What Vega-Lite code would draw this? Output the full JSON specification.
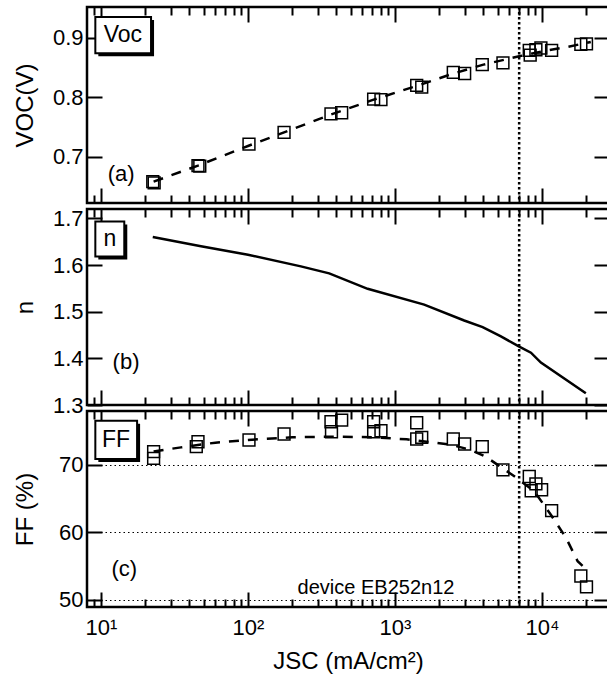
{
  "$schema": "https://vega.github.io/schema/vega-lite/v6.json",
  "padding": {"left": 12, "top": 4, "right": 0, "bottom": 0},
  "background": "white",
  "config": {
    "font": "Liberation Sans",
    "view": {"stroke": "black", "strokeWidth": 2.5},
    "axis": {"labelFont": "Liberation Sans", "labelFontSize": 22, "labelColor": "black", "titleFont": "Liberation Sans", "titleFontSize": 24, "titleFontWeight": "normal", "titleColor": "black", "tickColor": "black", "tickWidth": 2, "domain": false, "grid": false, "labelFlush": false, "labelOverlap": false}
  },
  "spacing": 6,
  "bounds": "flush",
  "datasets": {
    "voc": [
      {"J": 22.5, "V": 0.658}, {"J": 23, "V": 0.656},
      {"J": 45.7, "V": 0.685}, {"J": 47, "V": 0.684},
      {"J": 101.6, "V": 0.721},
      {"J": 176, "V": 0.741},
      {"J": 367, "V": 0.772}, {"J": 434, "V": 0.774},
      {"J": 716, "V": 0.797}, {"J": 803, "V": 0.796},
      {"J": 1406, "V": 0.820}, {"J": 1521, "V": 0.817},
      {"J": 2494, "V": 0.842}, {"J": 2980, "V": 0.840},
      {"J": 3927, "V": 0.855}, {"J": 5430, "V": 0.858},
      {"J": 8200, "V": 0.879}, {"J": 8320, "V": 0.871}, {"J": 9100, "V": 0.880}, {"J": 9840, "V": 0.883}, {"J": 11640, "V": 0.879},
      {"J": 18400, "V": 0.889}, {"J": 20100, "V": 0.890}
    ],
    "vocfit": [
      {"J": 22.8, "V": 0.658}, {"J": 45.7, "V": 0.685}, {"J": 100, "V": 0.718}, {"J": 176, "V": 0.741},
      {"J": 367, "V": 0.771}, {"J": 716, "V": 0.796}, {"J": 1400, "V": 0.819}, {"J": 2500, "V": 0.840},
      {"J": 4000, "V": 0.855}, {"J": 7000, "V": 0.869}, {"J": 10000, "V": 0.877}, {"J": 15000, "V": 0.885}, {"J": 21500, "V": 0.893}
    ],
    "nfit": [
      {"J": 22.5, "n": 1.660}, {"J": 47.9, "n": 1.640}, {"J": 100, "n": 1.622}, {"J": 229, "n": 1.597},
      {"J": 357, "n": 1.582}, {"J": 652, "n": 1.549}, {"J": 1581, "n": 1.515}, {"J": 2958, "n": 1.481},
      {"J": 3950, "n": 1.467}, {"J": 5260, "n": 1.447}, {"J": 7010, "n": 1.425}, {"J": 8420, "n": 1.412},
      {"J": 9840, "n": 1.391}, {"J": 19900, "n": 1.325}
    ],
    "ff": [
      {"J": 22.8, "FF": 71.96}, {"J": 22.8, "FF": 70.97},
      {"J": 45.7, "FF": 73.44}, {"J": 44.5, "FF": 72.70},
      {"J": 101.6, "FF": 73.69},
      {"J": 176, "FF": 74.58},
      {"J": 367, "FF": 76.40}, {"J": 434, "FF": 76.65}, {"J": 370, "FF": 74.92},
      {"J": 716, "FF": 76.40}, {"J": 716, "FF": 74.92}, {"J": 803, "FF": 75.07},
      {"J": 1406, "FF": 76.25}, {"J": 1406, "FF": 73.84}, {"J": 1521, "FF": 74.08},
      {"J": 2494, "FF": 73.84}, {"J": 2980, "FF": 73.10}, {"J": 3927, "FF": 72.70},
      {"J": 5430, "FF": 69.26},
      {"J": 8200, "FF": 68.27}, {"J": 9100, "FF": 67.19}, {"J": 8450, "FF": 66.16}, {"J": 9950, "FF": 66.31},
      {"J": 11640, "FF": 63.21},
      {"J": 18400, "FF": 53.50}, {"J": 20100, "FF": 51.88}
    ],
    "fffit": [
      {"J": 22.8, "FF": 72.0}, {"J": 35, "FF": 72.6}, {"J": 60, "FF": 73.3}, {"J": 100, "FF": 73.7},
      {"J": 200, "FF": 74.1}, {"J": 400, "FF": 74.2}, {"J": 700, "FF": 74.1}, {"J": 1200, "FF": 73.8},
      {"J": 2400, "FF": 73.0}, {"J": 3300, "FF": 72.2}, {"J": 4160, "FF": 71.2}, {"J": 5000, "FF": 70.0},
      {"J": 6490, "FF": 68.3}, {"J": 8870, "FF": 66.1}, {"J": 11500, "FF": 62.6}, {"J": 14560, "FF": 59.2},
      {"J": 17500, "FF": 55.7}, {"J": 18900, "FF": 55.0}
    ]
  },
  "vconcat": [
    {
      "width": 522, "height": 196,
      "resolve": {"axis": {"x": "independent", "y": "independent"}},
      "layer": [
        {"data": {"values": [{}]}, "mark": {"type": "rule", "strokeDash": [2.5, 2.5], "strokeWidth": 2.5, "color": "black"},
         "encoding": {"x": {"datum": 7000, "type": "quantitative", "scale": {"type": "log", "domain": [8.03, 28600], "nice": false}, "axis": null}}},
        {"data": {"name": "vocfit"}, "mark": {"type": "line", "strokeDash": [10, 9], "strokeWidth": 2.5, "color": "black"},
         "encoding": {
           "x": {"field": "J", "type": "quantitative", "scale": {"type": "log", "domain": [8.03, 28600], "nice": false},
                 "axis": {"orient": "top", "values": [9,10,20,30,40,50,60,70,80,90,100,200,300,400,500,600,700,800,900,1000,2000,3000,4000,5000,6000,7000,8000,9000,10000,20000], "tickSize": {"condition": {"test": "indexof([10,100,1000,10000], datum.value) >= 0", "value": -15}, "value": -8}, "labels": false, "title": null}},
           "y": {"field": "V", "type": "quantitative", "scale": {"domain": [0.622, 0.952], "nice": false, "zero": false},
                 "axis": {"orient": "right", "values": [0.7, 0.8, 0.9], "tickSize": -15, "labels": false, "title": null}}}},
        {"data": {"name": "voc"}, "mark": {"type": "point", "shape": "square", "size": 140, "filled": false, "color": "black", "strokeWidth": 1.5, "opacity": 1},
         "encoding": {
           "x": {"field": "J", "type": "quantitative", "scale": {"type": "log", "domain": [8.03, 28600], "nice": false},
                 "axis": {"orient": "bottom", "values": [9,10,20,30,40,50,60,70,80,90,100,200,300,400,500,600,700,800,900,1000,2000,3000,4000,5000,6000,7000,8000,9000,10000,20000], "tickSize": {"condition": {"test": "indexof([10,100,1000,10000], datum.value) >= 0", "value": -15}, "value": -8}, "labels": false, "title": null}},
           "y": {"field": "V", "type": "quantitative", "scale": {"domain": [0.622, 0.952], "nice": false, "zero": false},
                 "axis": {"orient": "left", "values": [0.7, 0.8, 0.9], "tickSize": -15, "labelPadding": 19, "format": ".1f", "title": "VOC(V)", "titlePadding": 15}}}},
        {"data": {"values": [{}]}, "mark": {"type": "rect", "fill": "black", "xOffset": 3, "x2Offset": 3, "yOffset": 3, "y2Offset": 3},
         "encoding": {"x": {"datum": 9.15, "type": "quantitative", "axis": null}, "x2": {"datum": 21.9}, "y": {"datum": 0.935, "type": "quantitative", "axis": null}, "y2": {"datum": 0.874}}},
        {"data": {"values": [{}]}, "mark": {"type": "rect", "fill": "white", "stroke": "black", "strokeWidth": 2},
         "encoding": {"x": {"datum": 9.15, "type": "quantitative", "axis": null}, "x2": {"datum": 21.9}, "y": {"datum": 0.935, "type": "quantitative", "axis": null}, "y2": {"datum": 0.874}}},
        {"data": {"values": [{}]}, "mark": {"type": "text", "text": "Voc", "font": "Liberation Sans", "fontSize": 23, "align": "center", "baseline": "middle", "color": "black"},
         "encoding": {"x": {"datum": 14.1, "type": "quantitative", "axis": null}, "y": {"datum": 0.905, "type": "quantitative", "axis": null}}},
        {"data": {"values": [{}]}, "mark": {"type": "text", "text": "(a)", "font": "Liberation Sans", "fontSize": 22, "align": "center", "baseline": "middle", "color": "black"},
         "encoding": {"x": {"datum": 13.7, "type": "quantitative", "axis": null}, "y": {"datum": 0.6705, "type": "quantitative", "axis": null}}}
      ]
    },
    {
      "width": 522, "height": 196,
      "resolve": {"axis": {"x": "independent", "y": "independent"}},
      "layer": [
        {"data": {"values": [{}]}, "mark": {"type": "rule", "strokeDash": [2.5, 2.5], "strokeWidth": 2.5, "color": "black"},
         "encoding": {"x": {"datum": 7000, "type": "quantitative", "scale": {"type": "log", "domain": [8.03, 28600], "nice": false}, "axis": null}}},
        {"data": {"name": "nfit"}, "mark": {"type": "line", "strokeWidth": 2.5, "color": "black"},
         "encoding": {
           "x": {"field": "J", "type": "quantitative", "scale": {"type": "log", "domain": [8.03, 28600], "nice": false},
                 "axis": {"orient": "bottom", "values": [9,10,20,30,40,50,60,70,80,90,100,200,300,400,500,600,700,800,900,1000,2000,3000,4000,5000,6000,7000,8000,9000,10000,20000], "tickSize": {"condition": {"test": "indexof([10,100,1000,10000], datum.value) >= 0", "value": -15}, "value": -8}, "labels": false, "title": null}},
           "y": {"field": "n", "type": "quantitative", "scale": {"domain": [1.3, 1.72], "nice": false, "zero": false},
                 "axis": {"orient": "left", "values": [1.3, 1.4, 1.5, 1.6, 1.7], "tickSize": -15, "labelPadding": 19, "format": ".1f", "title": "n", "titlePadding": 15}}}},
        {"data": {"values": [{}]}, "mark": {"type": "rect", "fill": "black", "xOffset": 3, "x2Offset": 3, "yOffset": 3, "y2Offset": 3},
         "encoding": {
           "x": {"datum": 9.15, "type": "quantitative",
                 "axis": {"orient": "top", "values": [9,10,20,30,40,50,60,70,80,90,100,200,300,400,500,600,700,800,900,1000,2000,3000,4000,5000,6000,7000,8000,9000,10000,20000], "tickSize": {"condition": {"test": "indexof([10,100,1000,10000], datum.value) >= 0", "value": -15}, "value": -8}, "labels": false, "title": null}},
           "x2": {"datum": 14.4},
           "y": {"datum": 1.693, "type": "quantitative",
                 "axis": {"orient": "right", "values": [1.3, 1.4, 1.5, 1.6, 1.7], "tickSize": -15, "labels": false, "title": null}},
           "y2": {"datum": 1.618}}},
        {"data": {"values": [{}]}, "mark": {"type": "rect", "fill": "white", "stroke": "black", "strokeWidth": 2},
         "encoding": {"x": {"datum": 9.15, "type": "quantitative", "axis": null}, "x2": {"datum": 14.4}, "y": {"datum": 1.693, "type": "quantitative", "axis": null}, "y2": {"datum": 1.618}}},
        {"data": {"values": [{}]}, "mark": {"type": "text", "text": "n", "font": "Liberation Sans", "fontSize": 23, "align": "center", "baseline": "middle", "color": "black"},
         "encoding": {"x": {"datum": 11.5, "type": "quantitative", "axis": null}, "y": {"datum": 1.655, "type": "quantitative", "axis": null}}},
        {"data": {"values": [{}]}, "mark": {"type": "text", "text": "(b)", "font": "Liberation Sans", "fontSize": 22, "align": "center", "baseline": "middle", "color": "black"},
         "encoding": {"x": {"datum": 14.8, "type": "quantitative", "axis": null}, "y": {"datum": 1.392, "type": "quantitative", "axis": null}}}
      ]
    },
    {
      "width": 522, "height": 196,
      "resolve": {"axis": {"x": "independent", "y": "independent"}},
      "layer": [
        {"data": {"values": [{}]}, "mark": {"type": "rule", "strokeDash": [2.5, 2.5], "strokeWidth": 2.5, "color": "black"},
         "encoding": {"x": {"datum": 7000, "type": "quantitative", "scale": {"type": "log", "domain": [8.03, 28600], "nice": false}, "axis": null}}},
        {"data": {"name": "fffit"}, "mark": {"type": "line", "strokeDash": [10, 9], "strokeWidth": 2.5, "color": "black"},
         "encoding": {
           "x": {"field": "J", "type": "quantitative", "scale": {"type": "log", "domain": [8.03, 28600], "nice": false},
                 "axis": {"orient": "top", "values": [9,10,20,30,40,50,60,70,80,90,100,200,300,400,500,600,700,800,900,1000,2000,3000,4000,5000,6000,7000,8000,9000,10000,20000], "tickSize": {"condition": {"test": "indexof([10,100,1000,10000], datum.value) >= 0", "value": -15}, "value": -8}, "labels": false, "title": null}},
           "y": {"field": "FF", "type": "quantitative", "scale": {"domain": [48.9, 78], "nice": false, "zero": false},
                 "axis": {"orient": "right", "values": [50, 60, 70], "tickSize": -15, "labels": false, "title": null}}}},
        {"data": {"name": "ff"}, "mark": {"type": "point", "shape": "square", "size": 140, "filled": false, "color": "black", "strokeWidth": 1.5, "opacity": 1},
         "encoding": {
           "x": {"field": "J", "type": "quantitative", "scale": {"type": "log", "domain": [8.03, 28600], "nice": false},
                 "axis": {"orient": "bottom", "values": [9,10,20,30,40,50,60,70,80,90,100,200,300,400,500,600,700,800,900,1000,2000,3000,4000,5000,6000,7000,8000,9000,10000,20000], "tickSize": {"condition": {"test": "indexof([10,100,1000,10000], datum.value) >= 0", "value": -15}, "value": -8}, "labelPadding": 25, "labelExpr": "datum.value == 10 ? '10¹' : datum.value == 100 ? '10²' : datum.value == 1000 ? '10³' : datum.value == 10000 ? '10⁴' : ''", "title": "JSC (mA/cm²)", "titlePadding": 4}},
           "y": {"field": "FF", "type": "quantitative", "scale": {"domain": [48.9, 78], "nice": false, "zero": false},
                 "axis": {"orient": "left", "values": [50, 60, 70], "tickSize": -15, "labelPadding": 19, "title": "FF (%)", "titlePadding": 21, "grid": true, "gridDash": [1.5, 3], "gridColor": "black", "gridWidth": 1.2}}}},
        {"data": {"values": [{}]}, "mark": {"type": "rect", "fill": "black", "xOffset": 3, "x2Offset": 3, "yOffset": 3, "y2Offset": 3},
         "encoding": {"x": {"datum": 9.15, "type": "quantitative", "axis": null}, "x2": {"datum": 17.6}, "y": {"datum": 76.54, "type": "quantitative", "axis": null}, "y2": {"datum": 70.89}}},
        {"data": {"values": [{}]}, "mark": {"type": "rect", "fill": "white", "stroke": "black", "strokeWidth": 2},
         "encoding": {"x": {"datum": 9.15, "type": "quantitative", "axis": null}, "x2": {"datum": 17.6}, "y": {"datum": 76.54, "type": "quantitative", "axis": null}, "y2": {"datum": 70.89}}},
        {"data": {"values": [{}]}, "mark": {"type": "text", "text": "FF", "font": "Liberation Sans", "fontSize": 23, "align": "center", "baseline": "middle", "color": "black"},
         "encoding": {"x": {"datum": 12.65, "type": "quantitative", "axis": null}, "y": {"datum": 73.7, "type": "quantitative", "axis": null}}},
        {"data": {"values": [{}]}, "mark": {"type": "text", "text": "(c)", "font": "Liberation Sans", "fontSize": 22, "align": "center", "baseline": "middle", "color": "black"},
         "encoding": {"x": {"datum": 14.4, "type": "quantitative", "axis": null}, "y": {"datum": 54.5, "type": "quantitative", "axis": null}}},
        {"data": {"values": [{}]}, "mark": {"type": "text", "text": "device EB252n12", "font": "Liberation Sans", "fontSize": 20, "align": "center", "baseline": "middle", "color": "black"},
         "encoding": {"x": {"datum": 743, "type": "quantitative", "axis": null}, "y": {"datum": 51.77, "type": "quantitative", "axis": null}}}
      ]
    }
  ]
}
